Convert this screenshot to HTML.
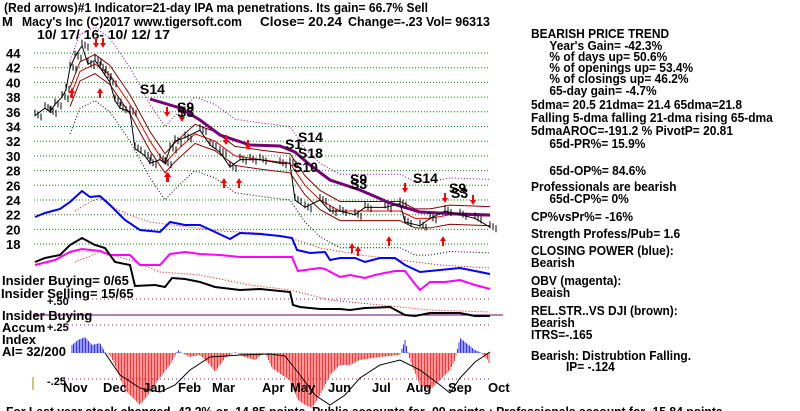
<!DOCTYPE html>
<html><head><meta charset="utf-8"><style>
body{margin:0;background:#fff;width:800px;height:411px;overflow:hidden;font-family:"Liberation Sans",sans-serif;}
svg{position:absolute;left:0;top:0}
text{font-family:"Liberation Sans",sans-serif;font-weight:bold;fill:#000}
</style></head><body>
<svg id="s" width="800" height="411" xmlns="http://www.w3.org/2000/svg">
<g font-size="13">
<text x="4" y="12" textLength="424" lengthAdjust="spacingAndGlyphs">(Red arrows)#1 Indicator=21-day IPA ma penetrations. Its gain= 66.7% Sell</text>
<text x="2" y="26">M</text>
<text x="22" y="26" textLength="220" lengthAdjust="spacingAndGlyphs">Macy's Inc  (C)2017 www.tigersoft.com</text>
<text x="260" y="26" textLength="82" lengthAdjust="spacingAndGlyphs">Close=  20.24</text>
<text x="348" y="26" textLength="142" lengthAdjust="spacingAndGlyphs">Change=-.23 Vol= 96313</text>
<text x="37" y="39" textLength="133" lengthAdjust="spacingAndGlyphs">10/ 17/ 16- 10/ 12/ 17</text>
</g>
<g id="grid" stroke="#080" stroke-dasharray="1,2"></g>
<g id="ylab" font-size="13"></g>
<g font-size="13" transform="translate(531,0) scale(0.92,1)">
<text x="0" y="38">BEARISH PRICE TREND</text>
<text x="20" y="50">Year's Gain= -42.3%</text>
<text x="20" y="61">% of days up= 50.6%</text>
<text x="20" y="72">% of openings up= 53.4%</text>
<text x="20" y="83">% of closings up= 46.2%</text>
<text x="20" y="95">65-day gain= -4.7%</text>
<text x="0" y="109">5dma= 20.5 21dma= 21.4 65dma=21.8</text>
<text x="0" y="122">Falling 5-dma  falling 21-dma  rising 65-dma</text>
<text x="0" y="135">5dmaAROC=-191.2 %  PivotP= 20.81</text>
<text x="20" y="148">65d-PR%= 15.9%</text>
<text x="20" y="175">65d-OP%= 84.6%</text>
<text x="0" y="191">Professionals are bearish</text>
<text x="20" y="203">65d-CP%= 0%</text>
<text x="0" y="221">CP%vsPr%= -16%</text>
<text x="0" y="238">Strength Profess/Pub= 1.6</text>
<text x="0" y="255">CLOSING POWER (blue):</text>
<text x="0" y="267">Bearish</text>
<text x="0" y="285">OBV (magenta):</text>
<text x="0" y="297">Beaish</text>
<text x="0" y="315">REL.STR..VS DJI (brown):</text>
<text x="0" y="327">Bearish</text>
<text x="0" y="339">ITRS=-.165</text>
<text x="0" y="360">Bearish: Distrubtion Falling.</text>
<text x="38" y="371">IP= -.124</text>
</g>
<g id="plot"></g>
<g font-size="13">
<text x="2" y="285">Insider Buying= 0/65</text>
<text x="1" y="298">Insider Selling= 15/65</text>
<text x="47" y="305" font-size="11">+.50</text>
<text x="2" y="320">Insider Buying</text>
<text x="2" y="332">Accum</text>
<text x="47" y="331" font-size="11">+.25</text>
<text x="2" y="344">Index</text>
<text x="2" y="356">AI= 32/200</text>
<text x="47" y="385" font-size="11">-.25</text>
</g>
<g font-size="13" id="months"></g>
<text x="6" y="416" font-size="13" textLength="720" lengthAdjust="spacingAndGlyphs">For Last year stock changed -42.2% or -14.85 points.  Public accounts for  -99 points ;  Professionals account for -15.84 points.</text>
<line x1="33" y1="377" x2="33" y2="390" stroke="#a80" stroke-width="1"/>
</svg>
<script>
var NS="http://www.w3.org/2000/svg",s=document.getElementById('s');
function el(p,t,a){var e=document.createElementNS(NS,t);for(var k in a)e.setAttribute(k,a[k]);p.appendChild(e);return e;}
var grid=document.getElementById('grid'),yl=document.getElementById('ylab'),plot=document.getElementById('plot');
function Y(p){return 53+(44-p)*7.35;}
for(var p=44;p>=18;p-=2){var y=Y(p);el(grid,'line',{x1:34,y1:y,x2:490,y2:y});var t=el(yl,'text',{x:6,y:y+5});t.textContent=p;}
[299,325,379].forEach(function(y){el(grid,'line',{x1:60,y1:y,x2:490,y2:y,stroke:'#808','stroke-dasharray':'1,3'});});
el(plot,'line',{x1:35,y1:315,x2:503,y2:315,stroke:'#606','stroke-width':1});
function pl(pts,st,w,da){el(plot,'polyline',{points:pts.map(function(q){return q[0]+','+q[1]}).join(' '),fill:'none',stroke:st,'stroke-width':w,'stroke-dasharray':da||''});}
function interp(pts,x){for(var i=0;i<pts.length-1;i++){if(x>=pts[i][0]&&x<=pts[i+1][0]){var f=(x-pts[i][0])/(pts[i+1][0]-pts[i][0]);return pts[i][1]+f*(pts[i+1][1]-pts[i][1]);}}return null;}
var ai=[[72,345],[78,340],[85,337],[92,345],[100,343],[105,352],[110,355],[115,365],[125,390],[135,400],[140,405],[148,395],[158,380],[170,365],[178,350],[182,353],[190,357],[200,355],[210,365],[215,372],[225,358],[235,352],[245,357],[255,360],[265,352],[272,368],[282,375],[290,380],[298,400],[305,405],[312,408],[320,395],[330,375],[340,365],[350,365],[360,360],[380,357],[400,355],[405,340],[410,360],[420,385],[430,390],[440,380],[450,370],[455,360],[460,338],[465,342],[475,350],[480,352],[488,360],[490,366]];
for(var x=72;x<=490;x+=1.5){var v=interp(ai,x);if(v==null)continue;el(plot,'line',{x1:x,y1:353,x2:x,y2:v,stroke:v<353?'#00f':'#f00','stroke-width':0.8});}
pl([[105,353],[120,375],[140,388],[160,392],[175,385],[190,370],[210,357],[240,355],[270,354],[285,356],[300,375],[315,395],[330,405],[345,395],[360,378],[380,365],[400,360],[420,370],[440,385],[450,393],[460,378],[475,362],[490,352]],'#000',1);
var pr=[[35,35.5],[45,36.5],[50,36],[55,37],[62,38],[66,39],[70,42],[75,43.5],[82,45],[88,42.5],[95,43],[100,42],[105,41],[110,40],[115,37.5],[120,36.5],[130,36],[135,31],[145,30],[150,29],[160,29.5],[165,29],[170,31],[175,32],[185,32.5],[200,33.5],[210,31.5],[220,30.5],[230,28.5],[240,29.5],[250,29.5],[260,29.5],[280,29],[290,29],[295,24],[305,23],[320,24],[330,22.5],[340,22.5],[355,22],[365,23],[385,23],[400,23.5],[405,21],[420,20.5],[430,21.5],[445,22.5],[460,22],[475,21.5],[490,20.3]];
var ma=[[70,38],[80,41.5],[95,42.5],[110,41],[130,37],[150,32],[165,29],[175,30.5],[195,33],[215,32],[235,30],[260,29.5],[290,29],[305,26],[320,24],[340,22.5],[380,22.5],[400,22.5],[415,21.5],[430,21.5],[450,22],[490,21.8]];
pl(ma.map(function(q){return [q[0],Y(q[1])]}),'#e00',1);
pl(ma.map(function(q){return [q[0],Y(q[1]+1.3)]}),'#800',1);
pl(ma.map(function(q){return [q[0],Y(q[1]-1.3)]}),'#800',1);
pl(ma.map(function(q){return [q[0],Y(q[1]+5)]}),'#808',1,'1,2');
pl(ma.map(function(q){return [q[0],Y(q[1]-5)]}),'#000',1,'1,2');
pl([[150,99],[180,108],[200,120],[220,135],[250,145],[280,146],[295,152],[310,165],[330,180],[360,190],[390,203],[420,212],[460,214],[490,215]],'#707',3);
pl(pr.map(function(q){return [q[0],Y(q[1])]}),'#000',1);
pr.forEach(function(q){for(var k=0;k<3;k++){var x=q[0]+k*3,y=Y(q[1])+(k-1)*2;el(plot,'line',{x1:x,y1:y-4,x2:x,y2:y+3,stroke:'#000','stroke-width':1});}});
pl([[75,211],[90,202],[100,198],[110,206],[130,215],[150,222],[180,226],[220,231],[260,233],[290,238],[320,248],[360,255],[400,260],[440,265],[490,268]],'#f00',1,'1,2');
pl([[75,262],[100,252],[130,260],[160,272],[200,275],[250,285],[290,290],[330,300],[380,305],[430,310],[490,312]],'#f00',1,'1,2');
pl([[35,217],[45,213],[60,209],[70,202],[82,191],[90,197],[100,196],[110,205],[115,210],[125,220],[140,230],[160,232],[170,222],[185,225],[200,225],[215,232],[230,239],[240,233],[260,234],[280,236],[292,238],[297,250],[310,253],[325,252],[330,260],[340,258],[355,258],[365,262],[380,258],[395,258],[405,265],[420,272],[440,270],[460,268],[475,271],[490,274]],'#00f',2);
pl([[35,265],[55,260],[70,252],[82,249],[100,251],[110,255],[130,255],[140,265],[160,265],[170,254],[185,252],[200,254],[220,255],[240,257],[260,257],[292,257],[298,271],[320,268],[325,269],[340,277],[350,275],[365,278],[375,275],[395,271],[405,271],[415,284],[420,290],[430,282],[445,282],[460,280],[475,285],[490,289]],'#f0f',2);
pl([[35,262],[45,258],[60,255],[70,245],[82,238],[95,245],[105,248],[115,262],[130,265],[135,286],[155,285],[165,287],[172,278],[185,279],[200,282],[215,287],[240,290],[260,289],[290,292],[293,305],[300,307],[320,309],[340,309],[350,310],[365,308],[390,307],[405,315],[415,316],[430,313],[460,313],[475,316],[490,316]],'#000',2);
function arr(x,y,up){var d=up?[[x,y],[x-3,y+5],[x+3,y+5]]:[[x,y],[x-3,y-5],[x+3,y-5]];el(plot,'polygon',{points:d.map(function(q){return q.join(',')}).join(' '),fill:'#f00'});el(plot,'line',{x1:x,y1:up?y+4:y-10,x2:x,y2:up?y+10:y-4,stroke:'#f00','stroke-width':2});}
[[72,88],[100,88],[167,172],[168,172],[224,178],[239,178],[352,243],[358,246],[389,236],[443,236]].forEach(function(a){arr(a[0],a[1],true);});
[[96,48],[103,48],[167,117],[182,122],[226,145],[248,150],[405,193],[445,203],[473,205]].forEach(function(a){arr(a[0],a[1],false);});
function lab(x,y,t){var e=el(plot,'text',{x:x,y:y,'font-size':'14','font-weight':'normal'});e.textContent=t;}
lab(140,94,'S14');lab(177,112,'S9');lab(177,117,'S3');lab(298,142,'S14');lab(285,149,'S1');lab(298,158,'S18');lab(293,172,'S10');lab(350,184,'S9');lab(350,189,'S3');lab(413,183,'S14');lab(449,193,'S9');lab(451,198,'S3');
var ms=[['Nov',63],['Dec',103],['Jan',143],['Feb',178],['Mar',212],['Apr',262],['May',290],['Jun',328],['Jul',372],['Aug',406],['Sep',448],['Oct',488]];
var mg=document.getElementById('months');ms.forEach(function(m){var e=el(mg,'text',{x:m[1],y:392});e.textContent=m[0];});
</script>
</body></html>
